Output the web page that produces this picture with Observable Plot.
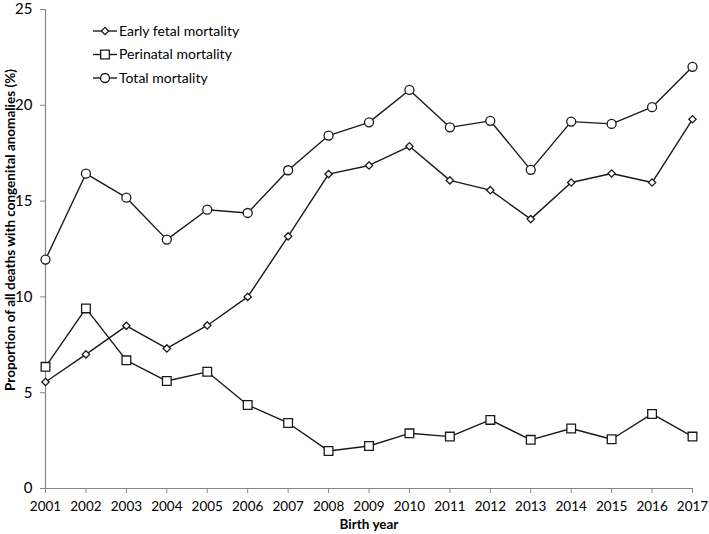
<!DOCTYPE html>
<html><head><meta charset="utf-8">
<script src="https://cdn.jsdelivr.net/npm/d3@7"></script>
<script src="https://cdn.jsdelivr.net/npm/@observablehq/plot@0.6"></script>
<style>
body{margin:0;background:#fff;font-family:Lato,sans-serif}
#wrap{position:relative;width:709px;height:534px}
#overlay{position:absolute;left:0;top:0;pointer-events:none}
</style></head><body><div id="wrap"></div>
<script>
const years = [2001,2002,2003,2004,2005,2006,2007,2008,2009,2010,2011,2012,2013,2014,2015,2016,2017];
const earlyFetal = [5.56,7.0,8.49,7.31,8.51,10.0,13.16,16.41,16.86,17.86,16.08,15.57,14.06,15.97,16.44,15.97,19.27];
const perinatal = [6.35,9.40,6.69,5.61,6.09,4.36,3.42,1.96,2.22,2.88,2.71,3.58,2.54,3.13,2.57,3.89,2.71];
const total = [11.95,16.43,15.18,12.99,14.55,14.38,16.61,18.42,19.11,20.80,18.85,19.19,16.63,19.15,19.03,19.90,22.01];
const seriesNames = ["Early fetal mortality","Perinatal mortality","Total mortality"];
const yTicks = [0,5,10,15,20,25];
const xLabel = "Birth year";
const yLabel = "Proportion of all deaths with congenital anomalies (%)";

const symbolDefs = [
  {symbol:"diamond2", r:3.3, d3sym:d3.symbolDiamond2},
  {symbol:"square", r:4.9, d3sym:d3.symbolSquare},
  {symbol:"circle", r:4.5, d3sym:d3.symbolCircle}
];
const seriesValues = [earlyFetal, perinatal, total];
const rows = [];
seriesValues.forEach((vals, i) => vals.forEach((v, j) => rows.push({year: years[j], value: v, series: seriesNames[i]})));

const ink = "#1a1a1a";
const axisGray = "#868686";

const marks = [
  Plot.ruleY([0], {stroke: axisGray, strokeWidth: 1.2}),
  Plot.ruleX([2001], {stroke: axisGray, strokeWidth: 1.2}),
  Plot.axisX({ticks: years, tickFormat: d => String(d), tickSize: 5, tickPadding: 8, stroke: axisGray, fill: "#000", fontSize: 13.5, label: null}),
  Plot.axisY({ticks: yTicks, tickSize: 5, tickPadding: 8, stroke: axisGray, fill: "#000", fontSize: 15, label: null}),
  Plot.line(rows, {x: "year", y: "value", z: "series", stroke: ink, strokeWidth: 1.4})
];
seriesNames.forEach((name, i) => {
  marks.push(Plot.dot(rows.filter(d => d.series === name), {
    x: "year", y: "value", symbol: () => symbolDefs[i].symbol, r: symbolDefs[i].r,
    fill: "#fff", stroke: ink, strokeWidth: 1.3
  }));
});
marks.push(Plot.text([xLabel], {frameAnchor: "bottom", dy: 40, fontWeight: "bold", fontSize: 13.5, fill: "#000"}));

const plot = Plot.plot({
  width: 709, height: 534,
  marginLeft: 45, marginRight: 17, marginTop: 9, marginBottom: 46,
  style: {fontFamily: "Lato, sans-serif", background: "#fff", color: "#000", overflow: "visible"},
  x: {domain: [2001, 2017]},
  y: {domain: [0, 25]},
  symbol: {domain: symbolDefs.map(s => s.symbol), range: symbolDefs.map(s => s.symbol)},
  marks
});
const wrap = document.getElementById("wrap");
wrap.appendChild(plot);

// overlay: legend and y-axis title
const ov = d3.select(wrap).append("svg").attr("id", "overlay").attr("width", 709).attr("height", 534);
ov.append("text")
  .attr("transform", "translate(10,230) rotate(-90)")
  .attr("text-anchor", "middle").attr("dy", "0.35em")
  .attr("font-family", "Lato, sans-serif").attr("font-size", 13.5).attr("font-weight", "bold").attr("fill", "#000")
  .text(yLabel);
const rowY = [31, 54.5, 78];
seriesNames.forEach((name, i) => {
  const g = ov.append("g").attr("transform", `translate(0,${rowY[i]})`);
  g.append("line").attr("x1", 93).attr("x2", 117).attr("stroke", ink).attr("stroke-width", 1.4);
  const s = symbolDefs[i];
  g.append("path").attr("d", d3.symbol(s.d3sym, Math.PI * s.r * s.r)()).attr("transform", "translate(105,0)")
    .attr("fill", "#fff").attr("stroke", ink).attr("stroke-width", 1.3);
  g.append("text").attr("x", 119).attr("dy", "0.35em").attr("font-family", "Lato, sans-serif").attr("font-size", 14).attr("fill", "#000").text(name);
});
</script></body></html>
